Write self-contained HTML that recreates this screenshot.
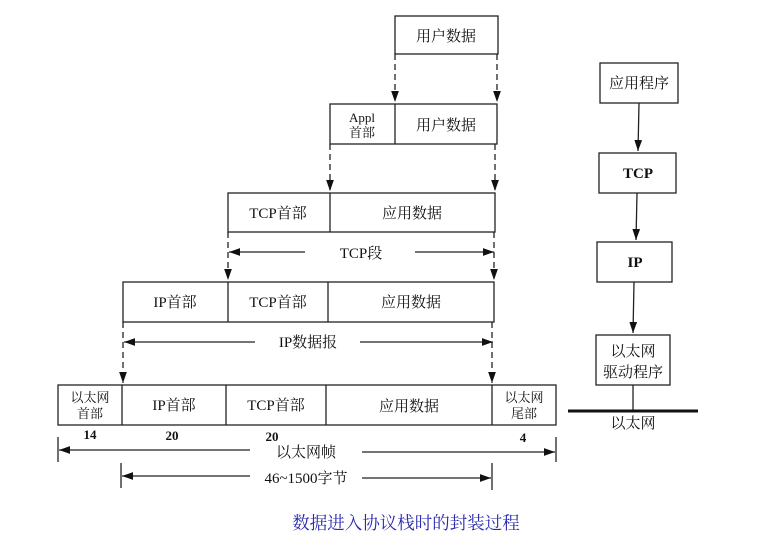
<!DOCTYPE html>
<html><head><meta charset="utf-8"><style>
html,body{margin:0;padding:0;background:#fff;}
svg{display:block;}
text{font-family:"Liberation Serif","Noto Serif CJK SC","Noto Sans CJK SC",serif;fill:#111;}
</style></head><body>
<svg width="757" height="551" viewBox="0 0 757 551" xmlns="http://www.w3.org/2000/svg">
<defs>
<marker id="a" viewBox="0 0 10 10" refX="10" refY="5" markerWidth="11" markerHeight="11" orient="auto-start-reverse" markerUnits="userSpaceOnUse"><path d="M0,1.5 L10,5 L0,8.5 z" fill="#111"/></marker>
</defs>
<g stroke="#222" stroke-width="1.3" fill="none">
<rect x="395" y="16" width="103" height="38"/>
<rect x="330" y="104" width="167" height="40"/><line x1="395" y1="104" x2="395" y2="144"/>
<rect x="228" y="193" width="267" height="39"/><line x1="330" y1="193" x2="330" y2="232"/>
<rect x="123" y="282" width="371" height="40"/><line x1="228" y1="282" x2="228" y2="322"/><line x1="328" y1="282" x2="328" y2="322"/>
<rect x="58" y="385" width="498" height="40"/>
<line x1="122" y1="385" x2="122" y2="425"/><line x1="226" y1="385" x2="226" y2="425"/><line x1="326" y1="385" x2="326" y2="425"/><line x1="492" y1="385" x2="492" y2="425"/>
<rect x="600" y="63" width="78" height="40"/>
<rect x="599" y="153" width="77" height="40"/>
<rect x="597" y="242" width="75" height="40"/>
<rect x="596" y="335" width="74" height="50"/>
</g>
<g stroke="#222" stroke-width="1.3" stroke-dasharray="6,4">
<line x1="395" y1="54" x2="395" y2="102" marker-end="url(#a)"/>
<line x1="497" y1="54" x2="497" y2="102" marker-end="url(#a)"/>
<line x1="330" y1="144" x2="330" y2="191" marker-end="url(#a)"/>
<line x1="495" y1="144" x2="495" y2="191" marker-end="url(#a)"/>
<line x1="228" y1="232" x2="228" y2="280" marker-end="url(#a)"/>
<line x1="494" y1="232" x2="494" y2="280" marker-end="url(#a)"/>
<line x1="123" y1="322" x2="123" y2="383" marker-end="url(#a)"/>
<line x1="492" y1="322" x2="492" y2="383" marker-end="url(#a)"/>
</g>
<g stroke="#222" stroke-width="1.3">
<line x1="229" y1="252" x2="305" y2="252" marker-start="url(#a)"/>
<line x1="415" y1="252" x2="494" y2="252" marker-end="url(#a)"/>
<line x1="124" y1="342" x2="255" y2="342" marker-start="url(#a)"/>
<line x1="360" y1="342" x2="493" y2="342" marker-end="url(#a)"/>
<line x1="58" y1="437" x2="58" y2="462"/><line x1="556" y1="437" x2="556" y2="462"/>
<line x1="59" y1="450" x2="250" y2="450" marker-start="url(#a)"/>
<line x1="362" y1="452" x2="555" y2="452" marker-end="url(#a)"/>
<line x1="121" y1="463" x2="121" y2="488"/><line x1="492" y1="463" x2="492" y2="490"/>
<line x1="122" y1="476" x2="250" y2="476" marker-start="url(#a)"/>
<line x1="362" y1="478" x2="491" y2="478" marker-end="url(#a)"/>
<line x1="639" y1="103" x2="638" y2="151" marker-end="url(#a)"/>
<line x1="637" y1="193" x2="636" y2="240" marker-end="url(#a)"/>
<line x1="634" y1="282" x2="633" y2="333" marker-end="url(#a)"/>
<line x1="633" y1="385" x2="633" y2="410"/>
</g>
<line x1="568" y1="411" x2="698" y2="411" stroke="#111" stroke-width="3"/>
<g font-size="15" text-anchor="middle">
<text x="446" y="41">用户数据</text>
<text x="446" y="130">用户数据</text>
<text x="362" y="122" font-size="13">Appl</text>
<text x="362" y="137" font-size="13">首部</text>
<text x="278" y="218">TCP首部</text>
<text x="412" y="218">应用数据</text>
<text x="361" y="258">TCP段</text>
<text x="175" y="307">IP首部</text>
<text x="278" y="307">TCP首部</text>
<text x="411" y="307">应用数据</text>
<text x="308" y="347">IP数据报</text>
<text x="90" y="402" font-size="13">以太网</text>
<text x="90" y="418" font-size="13">首部</text>
<text x="174" y="410">IP首部</text>
<text x="276" y="410">TCP首部</text>
<text x="409" y="411">应用数据</text>
<text x="524" y="402" font-size="13">以太网</text>
<text x="524" y="418" font-size="13">尾部</text>
<text x="90" y="439" font-size="13" font-weight="bold">14</text>
<text x="172" y="440" font-size="13" font-weight="bold">20</text>
<text x="272" y="441" font-size="13" font-weight="bold">20</text>
<text x="523" y="442" font-size="13" font-weight="bold">4</text>
<text x="306" y="457">以太网帧</text>
<text x="306" y="483">46~1500字节</text>
<text x="639" y="88">应用程序</text>
<text x="638" y="178" font-weight="bold">TCP</text>
<text x="635" y="267" font-weight="bold">IP</text>
<text x="633" y="356">以太网</text>
<text x="633" y="377">驱动程序</text>
<text x="633" y="428">以太网</text>
<text x="406" y="529" font-size="17.5" style="fill:#2a2ab0" font-family="'Noto Sans CJK SC',sans-serif">数据进入协议栈时的封装过程</text>
</g>
</svg>
</body></html>
